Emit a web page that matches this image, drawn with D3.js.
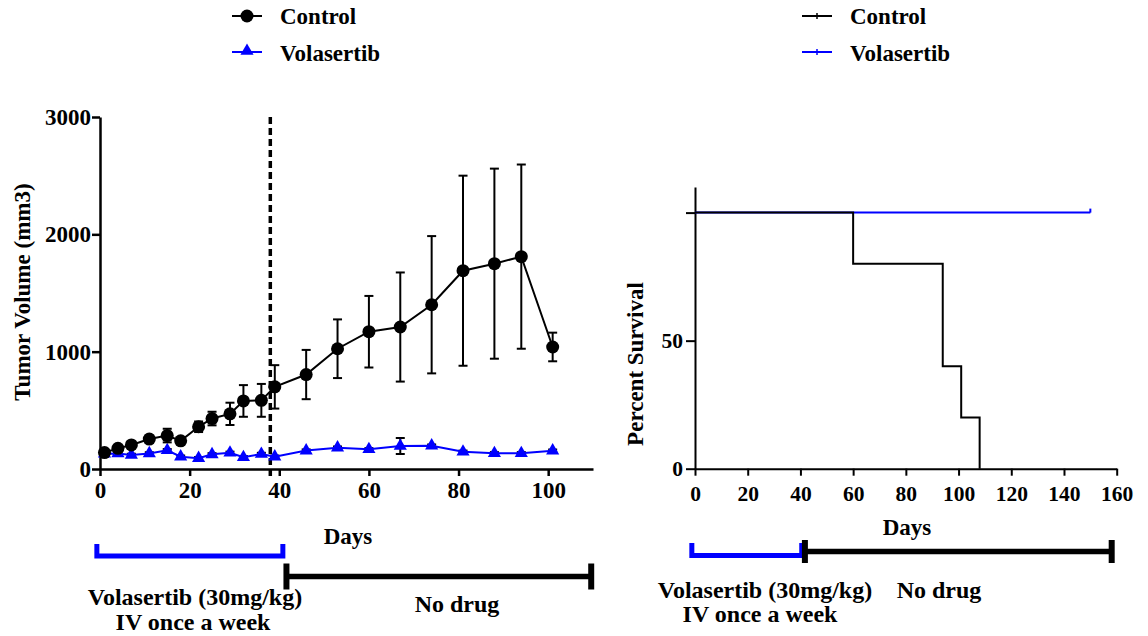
<!DOCTYPE html>
<html>
<head>
<meta charset="utf-8">
<script src="https://cdn.jsdelivr.net/npm/d3@7/dist/d3.min.js"></script>
<style>
  html, body { margin: 0; padding: 0; background: #fff; }
  svg { display: block; }
  text { font-family: "Liberation Serif", "Times New Roman", serif; font-weight: bold; fill: #000; }
</style>
</head>
<body>
<svg id="chart" width="1148" height="636"></svg>
<script>
// ---------------- DATA ----------------
const seriesNames = ["Control", "Volasertib"];
const tumorDays = [1, 4, 7, 11, 15, 18, 22, 25, 29, 32, 36, 39, 46, 53, 60, 67, 74, 81, 88, 94, 101];
const controlVolume = [140, 176, 205, 255, 285, 240, 360, 430, 470, 580, 585, 700, 805, 1025, 1170, 1210, 1400, 1690, 1750, 1810, 1040];
const controlSEM    = [20, 20, 25, 30, 58, 25, 45, 58, 95, 135, 140, 185, 210, 250, 305, 465, 585, 810, 810, 785, 122];
const volasertibVolume = [130, 133, 120, 133, 160, 105, 92, 125, 138, 100, 128, 105, 157, 182, 168, 196, 199, 147, 134, 134, 156];
const volasertibSEM    = [10, 10, 10, 10, 10, 10, 10, 10, 10, 10, 10, 10, 10, 10, 10, 68, 10, 10, 10, 10, 10];
const tumorYTicks = [0, 1000, 2000, 3000];
const tumorYTickLabels = ["0", "1000", "2000", "3000"];
const tumorXTicks = [0, 20, 40, 60, 80, 100];
const lastDoseDay = 38;

const controlSurvDays = [0, 60, 94, 101, 108];
const controlSurvPct  = [100, 80, 40, 20, 0];
const volasertibSurvDays = [0, 150];
const volasertibSurvPct  = [100, 100];
const survYTicks = [0, 50, 100];
const survYTickLabels = ["0", "50", ""];
const survXTicks = [0, 20, 40, 60, 80, 100, 120, 140, 160];

const leftDrugPhase = [-0.7, 40.8];
const leftNoDrugPhase = [41.6, 109.6];
const rightDrugPhase = [-1.2, 40.5];
const rightNoDrugPhase = [41.7, 158.1];
const drugLabel = ["Volasertib (30mg/kg)", "IV once a week"];
const noDrugLabel = "No drug";

const BLUE = "#0000ff";
// ---------------------------------------

const svg = d3.select("#chart");

// ======== LEFT: tumour volume ========
const xL = d3.scaleLinear().domain([0, 110]).range([100, 593]);
const yL = d3.scaleLinear().domain([0, 3000]).range([469, 117]);

const gYL = svg.append("g").attr("transform", `translate(${xL(0)},0)`)
  .call(d3.axisLeft(yL).tickValues(tumorYTicks).tickFormat((d, i) => tumorYTickLabels[i]).tickSize(8).tickPadding(1).tickSizeOuter(0));
const gXL = svg.append("g").attr("transform", `translate(0,${yL(0)})`)
  .call(d3.axisBottom(xL).tickValues(tumorXTicks).tickFormat(d3.format("d")).tickSize(7).tickPadding(6).tickSizeOuter(0));
[gYL, gXL].forEach(g => {
  g.attr("font-family", null);
  g.selectAll("path.domain").attr("stroke", "#000").attr("stroke-width", 2.5);
  g.selectAll(".tick line").attr("stroke", "#000").attr("stroke-width", 2.5);
  g.selectAll("text").attr("font-size", 23).attr("font-family", "Liberation Serif").attr("font-weight", "bold").attr("fill", "#000");
});

// dashed line at last dose
svg.append("line")
  .attr("x1", xL(lastDoseDay)).attr("x2", xL(lastDoseDay))
  .attr("y1", yL(3000)).attr("y2", yL(0) + 9)
  .attr("stroke", "#000").attr("stroke-width", 3.5).attr("stroke-dasharray", "7,4");

const ctrl = tumorDays.map((d, i) => ({ d, v: controlVolume[i], e: controlSEM[i] }));
const vola = tumorDays.map((d, i) => ({ d, v: volasertibVolume[i], e: volasertibSEM[i] }));
const lineL = d3.line().x(p => xL(p.d)).y(p => yL(p.v));

function errorBars(data, color) {
  const g = svg.append("g").attr("stroke", color).attr("stroke-width", 2);
  data.forEach(p => {
    g.append("line").attr("x1", xL(p.d)).attr("x2", xL(p.d)).attr("y1", yL(p.v - p.e)).attr("y2", yL(p.v + p.e));
    [p.v - p.e, p.v + p.e].forEach(v => {
      g.append("line").attr("x1", xL(p.d) - 4.5).attr("x2", xL(p.d) + 4.5).attr("y1", yL(v)).attr("y2", yL(v));
    });
  });
}

// volasertib
errorBars(vola, "#000");
svg.append("path").datum(vola).attr("d", lineL).attr("fill", "none").attr("stroke", BLUE).attr("stroke-width", 2);
svg.append("g").selectAll("path").data(vola).join("path")
  .attr("d", d3.symbol(d3.symbolTriangle, 75))
  .attr("transform", p => `translate(${xL(p.d)},${yL(p.v)})`)
  .attr("fill", BLUE);

// control
errorBars(ctrl, "#000");
svg.append("path").datum(ctrl).attr("d", lineL).attr("fill", "none").attr("stroke", "#000").attr("stroke-width", 2);
svg.append("g").selectAll("circle").data(ctrl).join("circle")
  .attr("cx", p => xL(p.d)).attr("cy", p => yL(p.v)).attr("r", 6.5).attr("fill", "#000");

// axis titles
svg.append("text").attr("transform", "translate(30,292) rotate(-90)")
  .attr("text-anchor", "middle").attr("font-size", 23).text("Tumor Volume (mm3)");
svg.append("text").attr("x", 348).attr("y", 544).attr("text-anchor", "middle").attr("font-size", 23).text("Days");

// legend left
const legL = svg.append("g");
legL.append("line").attr("x1", 232).attr("x2", 262).attr("y1", 16).attr("y2", 16).attr("stroke", "#000").attr("stroke-width", 2);
legL.append("circle").attr("cx", 247).attr("cy", 16).attr("r", 6.5).attr("fill", "#000");
legL.append("text").attr("x", 280).attr("y", 24).attr("font-size", 23).text(seriesNames[0]);
legL.append("line").attr("x1", 232).attr("x2", 262).attr("y1", 52).attr("y2", 52).attr("stroke", BLUE).attr("stroke-width", 2);
legL.append("path").attr("d", d3.symbol(d3.symbolTriangle, 75)).attr("transform", "translate(247,51)").attr("fill", BLUE);
legL.append("text").attr("x", 280).attr("y", 61).attr("font-size", 23).text(seriesNames[1]);

// ======== RIGHT: survival ========
const xR = d3.scaleLinear().domain([0, 160]).range([695, 1116.7]);
const yR = d3.scaleLinear().domain([0, 110]).range([468.7, 187]);

const gYR = svg.append("g").attr("transform", `translate(${xR(0)},0)`)
  .call(d3.axisLeft(yR).tickValues(survYTicks).tickFormat((d, i) => survYTickLabels[i]).tickSize(9).tickPadding(3).tickSizeOuter(0));
const gXR = svg.append("g").attr("transform", `translate(0,${yR(0)})`)
  .call(d3.axisBottom(xR).tickValues(survXTicks).tickFormat(d3.format("d")).tickSize(7).tickPadding(10).tickSizeOuter(0));
[gYR, gXR].forEach(g => {
  g.attr("font-family", null);
  g.selectAll("path.domain").attr("stroke", "#000").attr("stroke-width", 2);
  g.selectAll(".tick line").attr("stroke", "#000").attr("stroke-width", 2);
  g.selectAll("text").attr("font-size", 21.5).attr("font-family", "Liberation Serif").attr("font-weight", "bold").attr("fill", "#000");
});

const stepLine = d3.line().x(p => xR(p[0])).y(p => yR(p[1])).curve(d3.curveStepAfter);
const volaSurv = volasertibSurvDays.map((d, i) => [d, volasertibSurvPct[i]]);
const ctrlSurv = controlSurvDays.map((d, i) => [d, controlSurvPct[i]]);
svg.append("path").datum(volaSurv).attr("d", stepLine).attr("fill", "none").attr("stroke", BLUE).attr("stroke-width", 2);
// censor tick at end of volasertib curve
const lastV = volaSurv[volaSurv.length - 1];
svg.append("line").attr("x1", xR(lastV[0])).attr("x2", xR(lastV[0]))
  .attr("y1", yR(lastV[1])).attr("y2", yR(lastV[1]) - 4).attr("stroke", BLUE).attr("stroke-width", 2);
svg.append("path").datum(ctrlSurv).attr("d", stepLine).attr("fill", "none").attr("stroke", "#000").attr("stroke-width", 2);

svg.append("text").attr("transform", "translate(643,364) rotate(-90)")
  .attr("text-anchor", "middle").attr("font-size", 23).text("Percent Survival");
svg.append("text").attr("x", 907).attr("y", 535).attr("text-anchor", "middle").attr("font-size", 23).text("Days");

// legend right
const legR = svg.append("g");
legR.append("line").attr("x1", 802).attr("x2", 832).attr("y1", 16).attr("y2", 16).attr("stroke", "#000").attr("stroke-width", 2);
legR.append("line").attr("x1", 817).attr("x2", 817).attr("y1", 13).attr("y2", 19).attr("stroke", "#000").attr("stroke-width", 1.5);
legR.append("text").attr("x", 850).attr("y", 24).attr("font-size", 23).text(seriesNames[0]);
legR.append("line").attr("x1", 802).attr("x2", 832).attr("y1", 52).attr("y2", 52).attr("stroke", BLUE).attr("stroke-width", 2);
legR.append("line").attr("x1", 817).attr("x2", 817).attr("y1", 49).attr("y2", 55).attr("stroke", BLUE).attr("stroke-width", 1.5);
legR.append("text").attr("x", 850).attr("y", 61).attr("font-size", 23).text(seriesNames[1]);

// ======== treatment schedule annotations ========
function drugBracket(x, phase, yBase, yTop) {
  const x0 = x(phase[0]), x1 = x(phase[1]);
  svg.append("path").attr("d", `M${x0},${yTop}V${yBase}H${x1}V${yTop}`)
    .attr("fill", "none").attr("stroke", BLUE).attr("stroke-width", 5).attr("stroke-linejoin", "miter");
}
function noDrugBar(x, phase, yMid, half) {
  const x0 = x(phase[0]), x1 = x(phase[1]);
  const g = svg.append("g").attr("stroke", "#000");
  g.append("line").attr("x1", x0).attr("x2", x1).attr("y1", yMid).attr("y2", yMid).attr("stroke-width", 5.5);
  [x0, x1].forEach(xx => g.append("line").attr("x1", xx).attr("x2", xx).attr("y1", yMid - half).attr("y2", yMid + half).attr("stroke-width", 6));
}
drugBracket(xL, leftDrugPhase, 556, 544);
noDrugBar(xL, leftNoDrugPhase, 576.5, 13);
drugBracket(xR, rightDrugPhase, 555.5, 543);
noDrugBar(xR, rightNoDrugPhase, 551.5, 11.5);

function annot(x, y, t) {
  svg.append("text").attr("x", x).attr("y", y).attr("text-anchor", "middle").attr("font-size", 24).text(t);
}
annot(195, 605, drugLabel[0]);
annot(193, 630, drugLabel[1]);
annot(457, 611.5, noDrugLabel);
annot(765, 598, drugLabel[0]);
annot(760, 621.5, drugLabel[1]);
annot(939, 598, noDrugLabel);
</script>
</body>
</html>
